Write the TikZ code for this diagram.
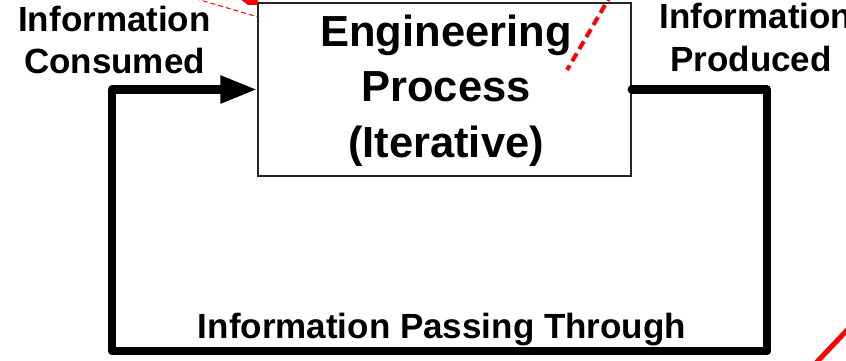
\documentclass[tikz,border=0pt]{standalone}
\usepackage{fontspec}
\setmainfont{Liberation Sans}
\usetikzlibrary{arrows.meta}
\begin{document}
\begin{tikzpicture}[x=1pt,y=-1pt,
  side/.style={font=\fontsize{35}{42}\selectfont\bfseries, anchor=base, inner sep=0pt},
  big/.style={font=\fontsize{43.5}{55}\selectfont\bfseries, anchor=base, inner sep=0pt},
  procbox/.style={draw=black!85, line width=1.5pt, fill=white, minimum width=373pt, minimum height=173pt, inner sep=0pt},
  flow/.style={line width=8.5pt, line join=round, line cap=round},
  reddash/.style={draw=red, line width=4pt, dash pattern=on 9pt off 5pt},
  redthin/.style={draw=red, line width=1pt, dash pattern=on 5pt off 3pt}]
\useasboundingbox (0,0) rectangle (846,361);
\fill[white] (0,0) rectangle (846,361);
% box
\node[procbox] (proc) at (444.5,89.5) {};
\node[big] (e1) at (446,47) {Engineering};
\node[big] (e2) at (446,102) {Process};
\node[big] (e3) at (446,157) {(Iterative)};
% side labels
\node[side] (c1) at (114.5,32) {Information};
\node[side] (c2) at (114.5,74) {Consumed};
\node[side] (p1) at (756,29) {Information};
\node[side] (p2) at (751,72) {Produced};
\node[side] (pt) at (442,338) {Information Passing Through};
% loop
\coordinate (k1) at (767,89.5);
\coordinate (k2) at (767,351);
\coordinate (k3) at (112,351);
\coordinate (k4) at (112,89.5);
\draw[flow, -{Triangle[length=37pt,width=26pt]}] (proc.east) -- (k1) -- (k2) -- (k3) -- (k4) -- (proc.west);
% red marks
\coordinate (r1) at (612,-7);
\coordinate (r2) at (567,70);
\draw[reddash] (r1) -- (r2);
\coordinate (r3) at (814,365);
\coordinate (r4) at (850,327);
\draw[draw=red, line width=5pt] (r3) -- (r4);
\coordinate (r5) at (195,-1.5);
\coordinate (r6) at (258,17);
\draw[redthin] (r5) -- (r6);
\fill[red] (240,-1) -- (258,-1) -- (257,5) -- (248,5) -- cycle;
\end{tikzpicture}
\end{document}
